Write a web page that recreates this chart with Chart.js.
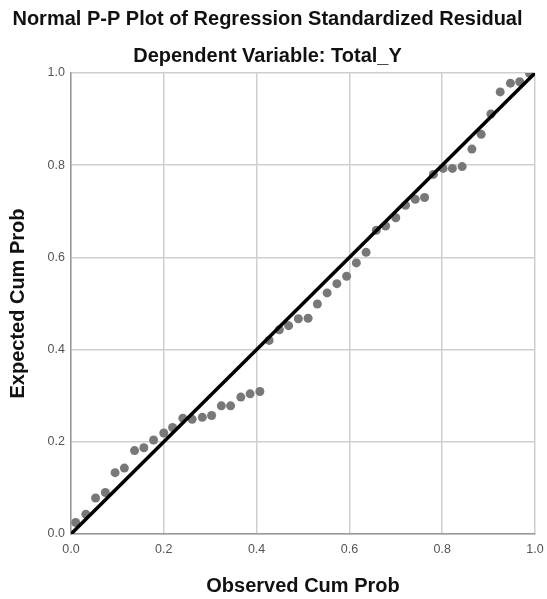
<!DOCTYPE html>
<html>
<head>
<meta charset="utf-8">
<script src="https://cdn.jsdelivr.net/npm/chart.js@4"></script>
<style>
  html, body { margin: 0; padding: 0; background: #fff; }
  #wrap { width: 547px; height: 599px; }
</style>
</head>
<body>
<div id="wrap"><canvas id="ppChart" width="547" height="599"></canvas></div>
<script>
const observedCum = [0.010, 0.032, 0.053, 0.074, 0.095, 0.115, 0.137, 0.157, 0.178, 0.200,
  0.219, 0.241, 0.261, 0.283, 0.303, 0.324, 0.344, 0.366, 0.386, 0.407,
  0.427, 0.449, 0.469, 0.490, 0.511, 0.531, 0.552, 0.573, 0.594, 0.615, 0.636,
  0.658, 0.678, 0.700, 0.721, 0.742, 0.762,
  0.781, 0.802, 0.822, 0.843, 0.864, 0.884, 0.905, 0.925, 0.947, 0.967, 0.988];
const expectedCum = [0.025, 0.043, 0.078, 0.090, 0.133, 0.143, 0.181, 0.187, 0.204, 0.219,
  0.231, 0.251, 0.249, 0.253, 0.257, 0.278, 0.278, 0.297, 0.304, 0.309,
  0.420, 0.443, 0.452, 0.467, 0.468, 0.499, 0.523, 0.543, 0.559, 0.588, 0.611,
  0.659, 0.668, 0.686, 0.713, 0.726, 0.730,
  0.780, 0.793, 0.793, 0.797, 0.835, 0.867, 0.911, 0.959, 0.978, 0.981, 1.000];
const refLineX = [0, 1];
const refLineY = [0, 1];
const tickValues = [0, 0.2, 0.4, 0.6, 0.8, 1.0];

const fontFam = "'Liberation Sans', Arial, sans-serif";
const points = observedCum.map((x, i) => ({x: x, y: expectedCum[i]}));
const diag = refLineX.map((x, i) => ({x: x, y: refLineY[i]}));

const ctx = document.getElementById('ppChart').getContext('2d');
const ppChart = new Chart(ctx, {
  type: 'scatter',
  data: {
    datasets: [
      {
        type: 'line',
        data: diag,
        borderColor: '#000',
        borderWidth: 3.5,
        pointRadius: 0,
        order: 0
      },
      {
        data: points,
        backgroundColor: '#787878',
        borderWidth: 0,
        pointRadius: 4.5,
        order: 1
      }
    ]
  },
  options: {
    responsive: false,
    animation: false,
    layout: { padding: { left: 0, right: 12, top: 0, bottom: 0 } },
    plugins: {
      legend: { display: false },
      tooltip: { enabled: false },
      title: {
        display: true,
        text: 'Normal P-P Plot of Regression Standardized Residual',
        color: '#111',
        font: { family: fontFam, size: 20, weight: 'bold' },
        padding: { top: 7, bottom: 13 }
      },
      subtitle: {
        display: true,
        text: 'Dependent Variable: Total_Y',
        color: '#111',
        font: { family: fontFam, size: 20, weight: 'bold' },
        padding: { top: 0, bottom: 5 }
      }
    },
    scales: {
      x: {
        type: 'linear',
        min: 0, max: 1,
        afterBuildTicks: (s) => { s.ticks = tickValues.map(v => ({value: v})); },
        ticks: {
          callback: (v) => v.toFixed(1),
          color: '#555',
          font: { family: fontFam, size: 12.5 },
          padding: 8,
          maxRotation: 0
        },
        grid: { color: '#cfcfcf', lineWidth: 1.5, drawTicks: false },
        border: { color: '#999', width: 1.5 },
        title: {
          display: true,
          text: 'Observed Cum Prob',
          color: '#111',
          font: { family: fontFam, size: 20, weight: 'bold' },
          padding: { top: 6, bottom: 1 }
        },
        afterFit: (s) => { s.height = 65; s.paddingRight = 0; s.paddingLeft = 0; }
      },
      y: {
        type: 'linear',
        min: 0, max: 1,
        afterBuildTicks: (s) => { s.ticks = tickValues.map(v => ({value: v})); },
        ticks: {
          callback: (v) => v.toFixed(1),
          color: '#555',
          font: { family: fontFam, size: 12.5 },
          padding: 6
        },
        grid: { color: '#cfcfcf', lineWidth: 1.5, drawTicks: false },
        border: { color: '#999', width: 1.5 },
        title: {
          display: true,
          text: 'Expected Cum Prob',
          color: '#111',
          font: { family: fontFam, size: 20, weight: 'bold' },
          padding: { top: 6, bottom: 4 }
        },
        afterFit: (s) => { s.width = 71; }
      }
    }
  }
});
</script>
</body>
</html>
